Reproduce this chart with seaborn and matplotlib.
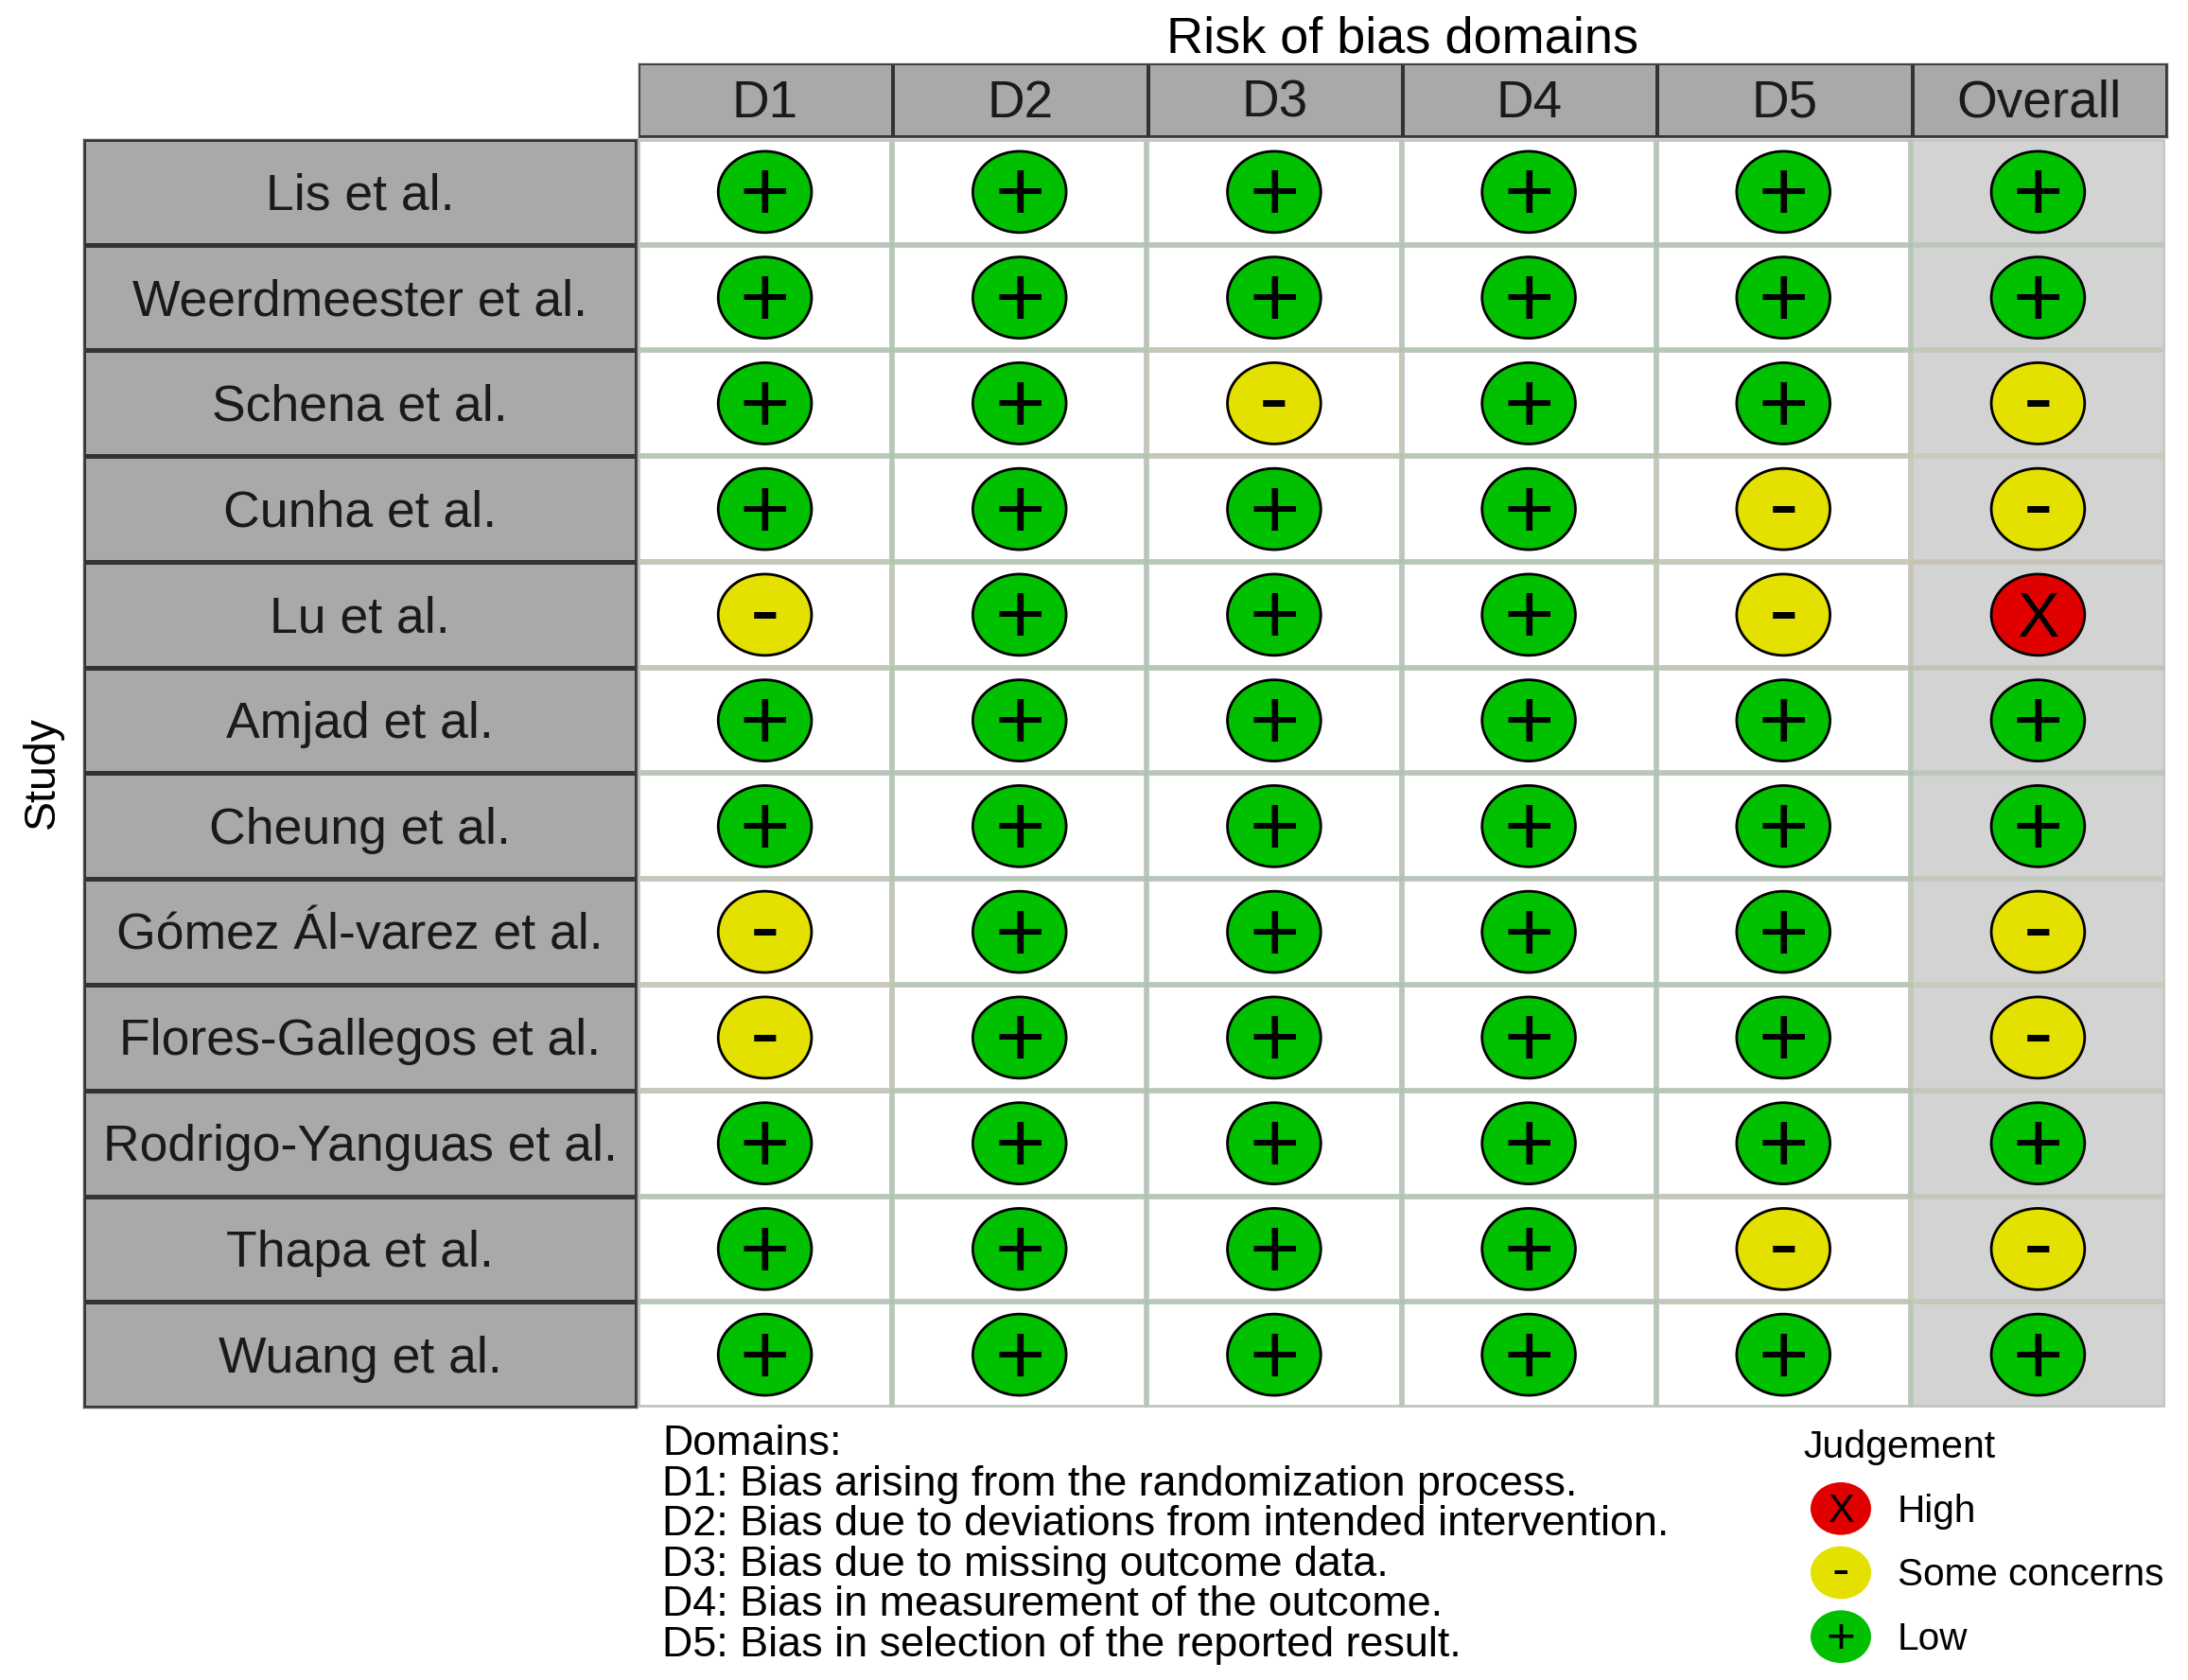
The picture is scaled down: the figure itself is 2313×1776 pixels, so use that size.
import numpy as np
import pandas as pd
import matplotlib
matplotlib.use('Agg')
import matplotlib.pyplot as plt
from matplotlib.colors import ListedColormap
from matplotlib.font_manager import FontProperties
from matplotlib.markers import MarkerStyle
from matplotlib.patches import Rectangle
from matplotlib.path import Path
from matplotlib.textpath import TextPath
from matplotlib.transforms import Affine2D
import seaborn as sns

studies = ['Lis et al.', 'Weerdmeester et al.', 'Schena et al.', 'Cunha et al.',
           'Lu et al.', 'Amjad et al.', 'Cheung et al.', 'Gómez Ál-varez et al.',
           'Flores-Gallegos et al.', 'Rodrigo-Yanguas et al.', 'Thapa et al.', 'Wuang et al.']
domains = ['D1', 'D2', 'D3', 'D4', 'D5', 'Overall']

d1 = ['+', '+', '+', '+', '-', '+', '+', '-', '-', '+', '+', '+']
d2 = ['+', '+', '+', '+', '+', '+', '+', '+', '+', '+', '+', '+']
d3 = ['+', '+', '-', '+', '+', '+', '+', '+', '+', '+', '+', '+']
d4 = ['+', '+', '+', '+', '+', '+', '+', '+', '+', '+', '+', '+']
d5 = ['+', '+', '+', '-', '-', '+', '+', '+', '+', '+', '-', '+']
overall = ['+', '+', '-', '-', 'X', '+', '+', '-', '-', '+', '-', '+']

domain_notes = ['Domains:',
                'D1: Bias arising from the randomization process.',
                'D2: Bias due to deviations from intended intervention.',
                'D3: Bias due to missing outcome data.',
                'D4: Bias in measurement of the outcome.',
                'D5: Bias in selection of the reported result.']
legend_symbols = ['X', '-', '+']
legend_labels = ['High', 'Some concerns', 'Low']

colours = {'X': '#E00000', '-': '#E4E000', '+': '#00C000'}
symbol_sizes = {'X': 48, '-': 68, '+': 66}
legend_symbol_sizes = {'X': 30, '-': 40, '+': 38}
panel_grey = '#A9A9A9'

W, H = 2313, 1776

sns.set_theme(style='white')
plt.rcParams['font.family'] = ['Liberation Sans', 'DejaVu Sans']


def axes_px(fig, left, top, right, bottom):
    return fig.add_axes([left / W, 1 - bottom / H, (right - left) / W, (bottom - top) / H])


def put_symbol(ax, x, y, sym, size):
    # centre the glyph itself, va='center' would go by the line box
    box = TextPath((0, 0), sym, size=size, prop=FontProperties(family='Liberation Sans')).get_extents()
    ax.annotate(sym, (x, y), xytext=(-(box.x0 + box.x1) / 2, -(box.y0 + box.y1) / 2),
                textcoords='offset points', ha='left', va='baseline',
                fontsize=size, color='black', zorder=5)


fig = plt.figure(figsize=(W / 100, H / 100), dpi=100, facecolor='white')

# Main grid
ax = axes_px(fig, 674, 147, 2289, 1488)
judgements = pd.DataFrame({'D1': d1, 'D2': d2, 'D3': d3, 'D4': d4, 'D5': d5, 'Overall': overall},
                          index=studies)
background = np.zeros(judgements.shape)
background[:, -1] = 1
sns.heatmap(background, cmap=ListedColormap(['white', '#D3D3D3']), vmin=0, vmax=1, cbar=False,
            linewidths=3.0, linecolor='#C8CAC8', xticklabels=False, yticklabels=False, ax=ax)

for r, study in enumerate(studies):
    for c, dom in enumerate(domains):
        ax.add_patch(Rectangle((c, r), 1, 1, fill=False, lw=3.0, zorder=2,
                               edgecolor=colours[judgements.loc[study, dom]], alpha=0.04))

long_df = judgements.reset_index(names='study').melt(id_vars='study', var_name='domain', value_name='judgement')
long_df['x'] = long_df['domain'].map(domains.index) + 0.5
long_df['y'] = long_df['study'].map(studies.index) + 0.5

ellipse = MarkerStyle(Path.unit_circle().transformed(Affine2D().scale(1.0, 0.87)))
sns.scatterplot(data=long_df, x='x', y='y', hue='judgement', palette=colours, marker=ellipse,
                s=5050, edgecolor='black', linewidth=2.0, legend=False, zorder=4, ax=ax)
for row in long_df.itertuples():
    put_symbol(ax, row.x, row.y, row.judgement, symbol_sizes[row.judgement])
ax.set_xlim(0, 6)
ax.set_ylim(12, 0)
ax.set_xlabel('')
ax.set_ylabel('')
ax.set_xticks([])
ax.set_yticks([])
sns.despine(ax=ax, left=True, bottom=True)

# Study strip on the left
ax_study = axes_px(fig, 88, 147, 673, 1488)
sns.heatmap(np.zeros((12, 1)), cmap=ListedColormap([panel_grey]), cbar=False, linewidths=2.4,
            linecolor='#333333', xticklabels=False, yticklabels=False, ax=ax_study)
for r, study in enumerate(studies):
    ax_study.annotate(study, (0.5, r + 0.5), xytext=(0, -3.2), textcoords='offset points',
                      ha='center', va='center', fontsize=38.5, color='#1A1A1A')
for side in ['left', 'top', 'right', 'bottom']:
    ax_study.spines[side].set_visible(True)
    ax_study.spines[side].set_color('#555555')
    ax_study.spines[side].set_linewidth(1.0)

# Domain header strip
ax_head = axes_px(fig, 675, 67, 2291, 145)
sns.heatmap(np.zeros((1, 6)), cmap=ListedColormap([panel_grey]), cbar=False, linewidths=1.6,
            linecolor='#333333', xticklabels=False, yticklabels=False, ax=ax_head)
for c, dom in enumerate(domains):
    ax_head.annotate(dom, (c + 0.5, 0.5), xytext=(-0.5, -2.8), textcoords='offset points',
                     ha='center', va='center', fontsize=39.5, color='#1A1A1A')
for side in ['left', 'top', 'right', 'bottom']:
    ax_head.spines[side].set_visible(True)
    ax_head.spines[side].set_color('#555555')
    ax_head.spines[side].set_linewidth(1.0)

fig.text(1483 / W, 1 - 42 / H, 'Risk of bias domains', ha='center', va='center', fontsize=39, color='black')
fig.text(45 / W, 1 - 816 / H, 'Study', rotation=90, ha='center', va='center', fontsize=33.5, color='black')

# Domain notes under the grid
for i, line in enumerate(domain_notes):
    fig.text(700 / W, 1 - (1527 + 42.4 * i) / H, line, ha='left', va='center', fontsize=32.3, color='black')

# Judgement legend
fig.text(1906 / W, 1 - 1530 / H, 'Judgement', ha='left', va='center', fontsize=29.5, color='black')
ax_leg = axes_px(fig, 1899, 1561, 1993, 1764)
leg_df = pd.DataFrame({'x': [0, 0, 0], 'y': [0, 1, 2], 'judgement': legend_symbols})
sns.scatterplot(data=leg_df, x='x', y='y', hue='judgement', palette=colours, marker=ellipse,
                s=2123, linewidth=0, legend=False, clip_on=False, ax=ax_leg)
ax_leg.set_xlim(-0.5, 0.5)
ax_leg.set_ylim(2.5, -0.5)
ax_leg.axis('off')
for row in leg_df.itertuples():
    put_symbol(ax_leg, row.x, row.y, row.judgement, legend_symbol_sizes[row.judgement])
    ax_leg.annotate(legend_labels[row.y], (row.x, row.y), xytext=(43, -2), textcoords='offset points',
                    ha='left', va='center', fontsize=29.2, color='black', annotation_clip=False)

fig.savefig('out.png', dpi=100, facecolor='white')
